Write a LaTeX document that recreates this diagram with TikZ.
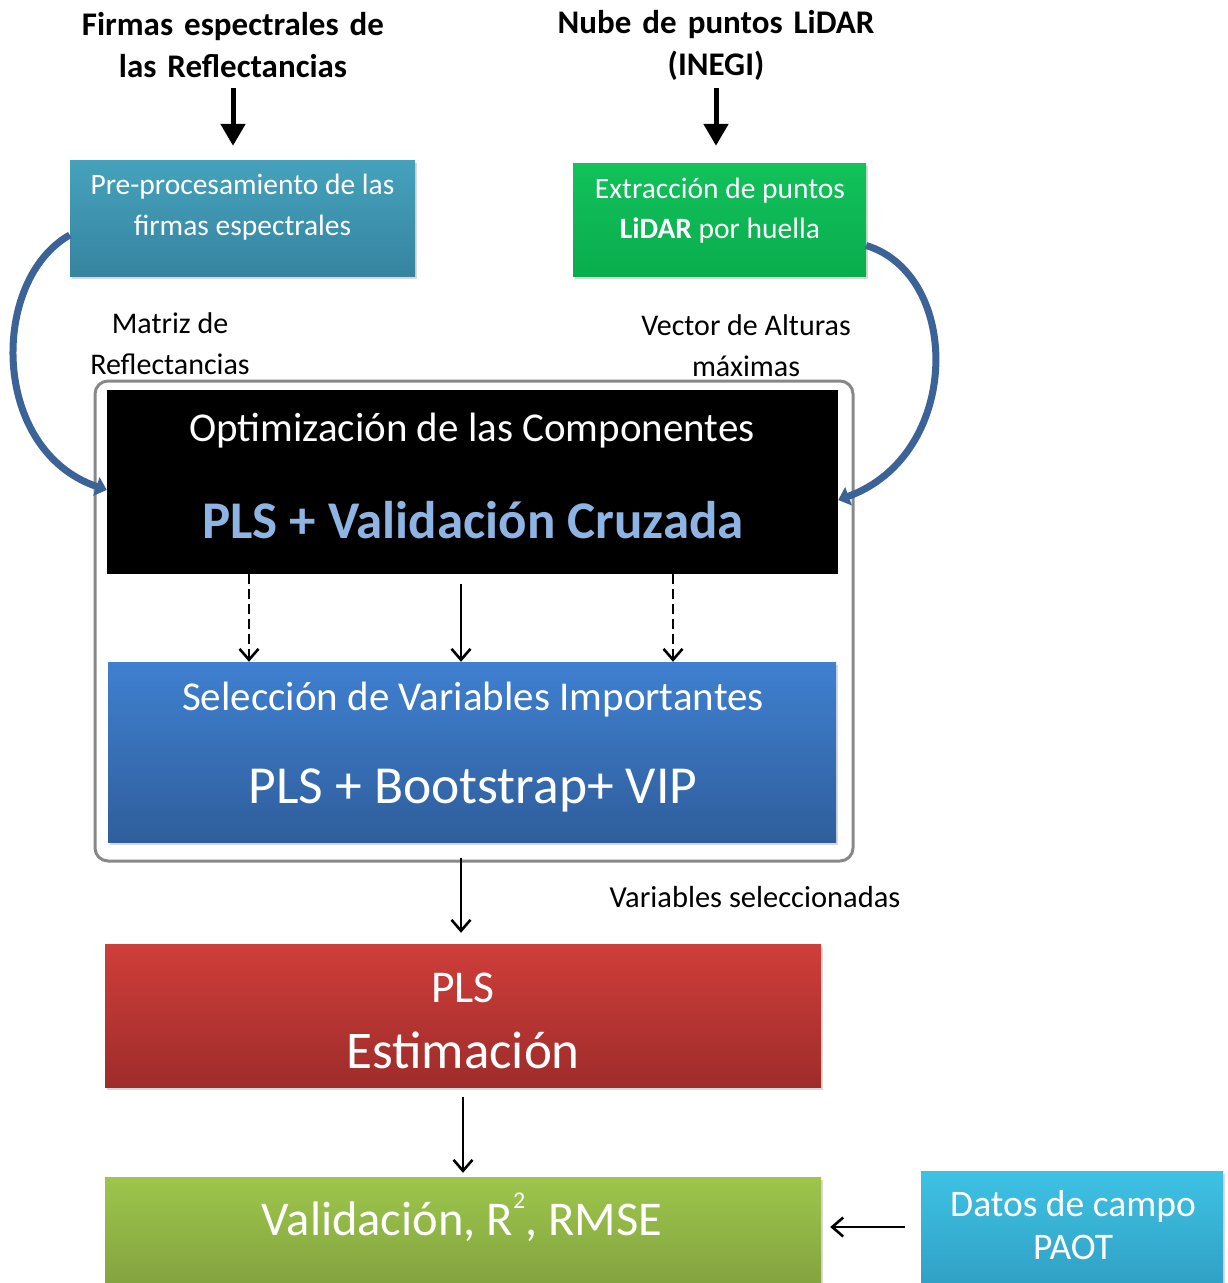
\documentclass[tikz,border=0pt]{standalone}
\usepackage{fontspec}
\setmainfont{Carlito}
\usetikzlibrary{arrows.meta,shadows,calc}

\definecolor{preA}{HTML}{45A2BC}
\definecolor{preB}{HTML}{3684A0}
\definecolor{extA}{HTML}{12C25B}
\definecolor{extB}{HTML}{09AD4D}
\definecolor{selA}{HTML}{3F80D0}
\definecolor{selB}{HTML}{2F5E9C}
\definecolor{estA}{HTML}{CF3E3A}
\definecolor{estB}{HTML}{9E2C2A}
\definecolor{valA}{HTML}{9DC64C}
\definecolor{valB}{HTML}{7E9C3C}
\definecolor{datA}{HTML}{3EC2E4}
\definecolor{datB}{HTML}{2E9CC0}
\definecolor{curveblue}{HTML}{3B6397}
\definecolor{pleblue}{HTML}{8EB4E3}
\definecolor{framegray}{HTML}{888888}

% font size and line distance, both in pt
\newcommand{\fs}[2]{\fontsize{#1}{#2}\selectfont}

\tikzset{
  block/.style={rectangle, inner sep=0pt, anchor=center,
    drop shadow={opacity=0.3, shadow xshift=1.5pt, shadow yshift=-3pt}},
  intext/.style={text=white, align=center, inner sep=0pt, anchor=center},
  plaintext/.style={text=black, align=center, inner sep=0pt, anchor=center},
  bigarrow/.style={line width=5pt, -{Triangle[length=22pt,width=24pt]}},
  thinarrow/.style={line width=2.6pt, -{Straight Barb[length=11pt,width=19pt,line width=2.6pt]}},
  dasharrow/.style={thinarrow, dash pattern=on 10pt off 5pt},
  loopcurve/.style={curveblue, line width=7pt, -{Triangle[length=11pt,width=19pt]}},
}

\begin{document}
\begin{tikzpicture}[x=1pt,y=-1pt]
\useasboundingbox (0,0) rectangle (1228,1283);

% input descriptions at the top
\node[plaintext, font=\bfseries\fs{33}{42}, text width=420pt] (inref) at (233,45)
  {Firmas espectrales de\\las Reflectancias};
\node[plaintext, font=\bfseries\fs{33}{42}, text width=420pt] (inlid) at (716,45)
  {Nube de puntos LiDAR\\(INEGI)};
\coordinate (inrefbot) at (233,88);
\coordinate (inlidbot) at (716,88);

% pre-processing blocks
\node[block, shading=axis, top color=preA, bottom color=preB,
      minimum width=345pt, minimum height=116pt] (pre) at (242.5,218) {};
\node[intext, font=\fs{29.5}{41}] (pretxt) at (242.5,207)
  {Pre-procesamiento de las\\firmas espectrales};
\node[block, shading=axis, top color=extA, bottom color=extB,
      minimum width=293pt, minimum height=113pt] (ext) at (719.5,219.5) {};
\node[intext, font=\fs{29.5}{40}] (exttxt) at (720,211)
  {Extracción de puntos\\\textbf{LiDAR} por huella};

\draw[bigarrow] (inrefbot) -- ($(pre.north -| inrefbot)+(0,-14)$);
\draw[bigarrow] (inlidbot) -- ($(ext.north -| inlidbot)+(0,-17)$);

% frame around the model stage
\node[draw=framegray, line width=3pt, rounded corners=13pt,
      minimum width=758pt, minimum height=480pt, inner sep=0pt] (frame) at (474,621) {};

% component optimisation
\node[fill=black, minimum width=731pt, minimum height=184pt, inner sep=0pt] (opt) at (472.5,482) {};
\node[intext, font=\fs{41}{48}] (opttop) at (472,431) {Optimización de las Componentes};
\node[intext, text=pleblue, font=\bfseries\fs{53}{60}] (optbot) at (473,520) {PLS + Validación Cruzada};

% variable selection
\node[block, shading=axis, top color=selA, bottom color=selB,
      minimum width=728pt, minimum height=180pt] (sel) at (472,752) {};
\node[intext, font=\fs{41}{48}] (seltop) at (473,700) {Selección de Variables Importantes};
\node[intext, font=\fs{53.5}{60}] (selbot) at (473,790) {PLS + Bootstrap+ VIP};

\draw[dasharrow] (opt.south -| 249,0) -- (sel.north -| 249,0);
\draw[thinarrow] ($(opt.south -| 461,0)+(0,10)$) -- (sel.north -| 461,0);
\draw[dasharrow] (opt.south -| 673,0) -- (sel.north -| 673,0);

% curved inputs to the optimisation
\draw[loopcurve] ($(pre.west)+(0,17)$) .. controls (-10,280) and (-10,450) .. ($(opt.west)+(0,8)$);
\draw[loopcurve] ($(ext.east)+(0,26)$) .. controls (962,275) and (962,455) .. ($(opt.east)+(0,18)$);

\node[plaintext, font=\fs{30}{41}] (lblref) at (170,344) {Matriz de\\Reflectancias};
\node[plaintext, font=\fs{30}{41}] (lbllid) at (746,346) {Vector de Alturas\\máximas};

% estimation
\node[block, shading=axis, top color=estA, bottom color=estB,
      minimum width=716pt, minimum height=143pt] (est) at (463,1015.5) {};
\node[intext, font=\fs{45.5}{52}] (esttop) at (463,988) {PLS};
\node[intext, font=\fs{53}{60}] (estbot) at (463,1050) {Estimación};

\draw[thinarrow] ($(frame.south -| 461,0)+(0,-5)$) -- ($(est.north -| 461,0)+(0,-11)$);
\node[plaintext, font=\fs{30.5}{36}] (lblsel) at (755,897) {Variables seleccionadas};

% validation
\node[block, shading=axis, top color=valA, bottom color=valB,
      minimum width=716pt, minimum height=130pt] (val) at (463,1242) {};
\node[intext, font=\fs{48.5}{56}] (valtxt) at (462,1217)
  {Validación, R\raisebox{0.56em}{\fs{24}{24}2}, RMSE};

\draw[thinarrow] ($(est.south -| 463,0)+(0,10)$) -- ($(val.north -| 463,0)+(0,-4)$);

% field data
\node[block, shading=axis, top color=datA, bottom color=datB,
      minimum width=302pt, minimum height=130pt] (dat) at (1072,1236) {};
\node[intext, font=\fs{37.5}{43}] (dattxt) at (1073,1225) {Datos de campo\\PAOT};

\draw[thinarrow] ($(dat.west)+(-16,-9)$) -- ($(val.east)+(9,-15)$);
\end{tikzpicture}
\end{document}
